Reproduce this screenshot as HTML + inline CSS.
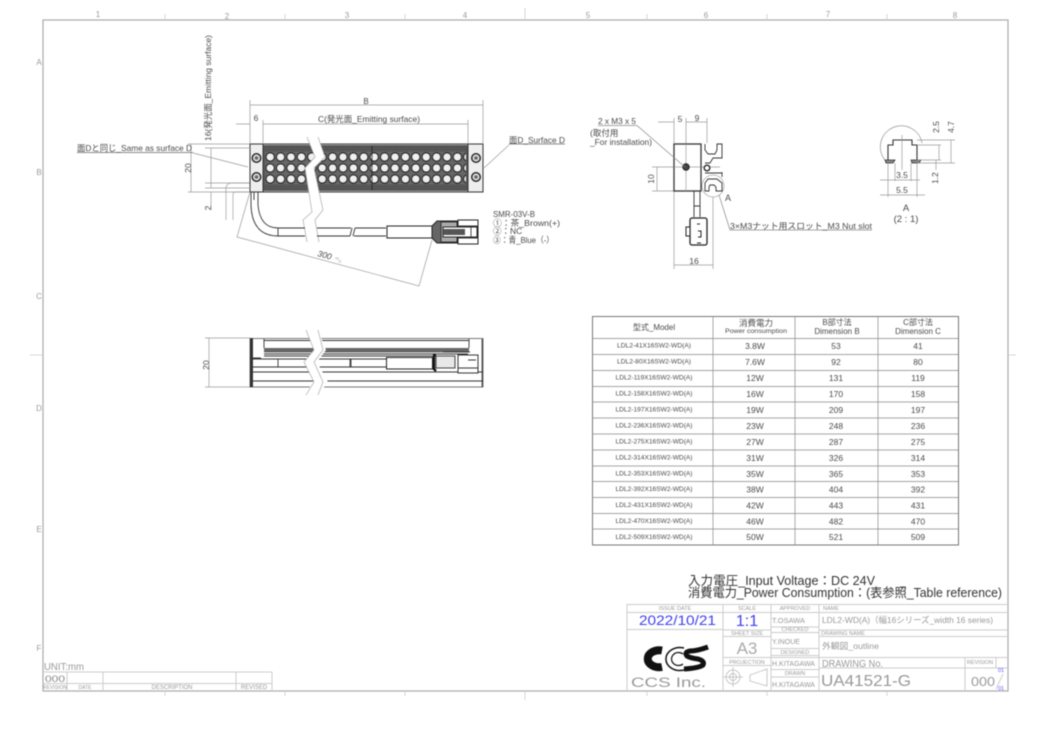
<!DOCTYPE html>
<html><head><meta charset="utf-8"><style>
html,body{margin:0;padding:0;background:#fff;width:1039px;height:729px;overflow:hidden}
svg{display:block;filter:blur(.4px)}
text{font-family:"Liberation Sans","Noto Sans CJK JP",sans-serif;fill:#4a4a4a}
.g text,text.g{fill:#999}
.l{fill:none;stroke:#333;stroke-width:.9}
.d{fill:none;stroke:#999;stroke-width:.7}
.t{fill:none;stroke:#ccc;stroke-width:1}
.c{text-anchor:middle}
</style></head><body>
<svg width="1039" height="729" viewBox="0 0 1039 729" xmlns="http://www.w3.org/2000/svg">
<defs>
<pattern id="led" x="265" y="151.5" width="10.4" height="11" patternUnits="userSpaceOnUse">
<rect width="10.4" height="11" fill="#666"/><circle cx="5.2" cy="5.5" r="4.2" fill="#f0f0f0" stroke="#222" stroke-width="1.1"/>
</pattern>
</defs>
<rect x="43" y="20" width="965" height="671" fill="none" stroke="#aaa" stroke-width="1.2"/>
<path d="M525 8V20M525 691V700M30 355H43M1008 355H1016M165 14V20M285 14V20M405 14V20M647 14V20M767 14V20M887 14V20M165 691V696M285 691V696M405 691V696M647 691V696M767 691V696M887 691V696" stroke="#ccc" stroke-width=".8"/>
<g class="g" font-size="8">
<text x="98" y="17" class="c">1</text><text x="227" y="19" class="c">2</text><text x="347" y="18" class="c">3</text><text x="465" y="18" class="c">4</text><text x="588" y="18" class="c">5</text><text x="706" y="18" class="c">6</text><text x="828" y="17" class="c">7</text><text x="955" y="18" class="c">8</text>
<text x="39" y="65" class="c">A</text><text x="39" y="175" class="c">B</text><text x="39" y="299" class="c">C</text><text x="39" y="411" class="c">D</text><text x="39" y="532" class="c">E</text><text x="39" y="651" class="c">F</text>
</g>

<!-- top view -->
<path d="M226 220V189Q226 183 232 183H250M233 220V195Q233 192 236 192H250" fill="none" stroke="#aaa" stroke-width=".8"/>
<path d="M188 192H250M188 144H250M205 183H250" class="d"/>
<rect x="263" y="145" width="205" height="46" fill="#555"/>
<rect x="265" y="151.500" width="201" height="33" fill="url(#led)"/>
<rect x="250" y="144" width="233" height="48" fill="none" stroke="#333"/>
<rect x="250" y="144" width="13" height="48" fill="#eee" stroke="#333"/>
<rect x="468" y="144" width="15" height="48" fill="#eee" stroke="#333"/>
<path d="M372 146V190" stroke="#222" stroke-width=".8"/>
<g fill="#ddd" stroke="#222" stroke-width="1.4">
<circle cx="256.500" cy="158" r="4.300"/><circle cx="256.500" cy="177" r="4.300"/><circle cx="476" cy="158" r="4.300"/><circle cx="476" cy="177" r="4.300"/>
</g>
<g fill="#666"><circle cx="256.500" cy="158" r="1.800"/><circle cx="256.500" cy="177" r="1.800"/><circle cx="476" cy="158" r="1.800"/><circle cx="476" cy="177" r="1.800"/></g>
<path d="M307 137L315 157L305 168L312 212L303 220L307 242L319 242L315 220L323 210L314 168L325 157L318 137Z" fill="#fff" stroke="none"/>
<path d="M307 137L315 157L305 168L312 212L303 220L307 242M318 137L325 157L314 168L323 210L315 220L319 242" fill="none" stroke="#aaa" stroke-width=".7"/>
<!-- cable -->
<path d="M251 192V205Q252 236 278 236H305M258 192V205Q260 228 278 228H305M278 228V236M254 192V200" class="l" stroke-width="1.100"/>
<path d="M317 228H351M317 236H350M355 228H386M354 236H386M352 228L350 236M355 228L353 236" class="l"/>
<rect x="387" y="226" width="45" height="12" fill="#fff" stroke="#222"/>
<path d="M432 226L437 221H457V243H437L432 238Z" fill="#666" stroke="#222"/>
<rect x="441" y="222" width="16" height="20" fill="#aaa" stroke="#222" stroke-width=".8"/>
<rect x="458" y="220" width="20" height="24" fill="#fff" stroke="#222"/>
<rect x="443" y="227" width="34" height="10" fill="#fff" stroke="#222"/>
<rect x="443" y="229" width="22" height="6" fill="#555"/>
<path d="M458 226H478M458 238H478M471 227V237" class="l"/>

<!-- top dims -->
<path d="M250 100V144M483 100V144M263 120V144M468 120V144M250 105H483M263 124H468M236 124H250M263 124H272" class="d"/>
<path d="M205 148H250M205 188H250M191 144V192M211 148V188M211 192V210" class="d"/>
<path d="M250 192L237 237L419 286L432 240M193 153L248 167M509 145L484 168" class="d"/>
<path d="M77 152.500H193M509 144H565" stroke="#666" stroke-width=".7"/>
<text x="366" y="104" font-size="8" class="c">B</text>
<text x="256" y="121" font-size="8.500" class="c">6</text>
<text x="318" y="122" font-size="8.500" textLength="102" lengthAdjust="spacingAndGlyphs">C(発光面_Emitting surface)</text>
<text x="77" y="151" font-size="8.500" textLength="115" lengthAdjust="spacingAndGlyphs">面Dと同じ_Same as surface D</text>
<text x="509" y="143" font-size="8.500" textLength="56" lengthAdjust="spacingAndGlyphs">面D_Surface D</text>
<text transform="translate(191,168) rotate(-90)" font-size="8.500" class="c">20</text>
<text transform="translate(211,141) rotate(-90)" font-size="8.500" textLength="106" lengthAdjust="spacingAndGlyphs">16(発光面_Emitting surface)</text>
<text transform="translate(211,208) rotate(-90)" font-size="8.500" class="c">2</text>
<text transform="translate(317,256) rotate(15)" font-size="8.500" font-style="italic">300 <tspan font-size="6" style="fill:#999">⁺⁵₀</tspan></text>
<g font-size="8.500">
<text x="493" y="217" textLength="42" lengthAdjust="spacingAndGlyphs">SMR-03V-B</text>
<text x="493" y="226" textLength="67" lengthAdjust="spacingAndGlyphs">①：茶_Brown(+)</text>
<text x="493" y="234">②：NC</text>
<text x="493" y="243" textLength="61" lengthAdjust="spacingAndGlyphs">③：青_Blue（-）</text>
</g>

<!-- side view -->
<path d="M205 338H250M205 387H250M209 338V387" class="d"/>
<text transform="translate(209,365) rotate(-90)" font-size="8.500" class="c">20</text>
<rect x="250" y="338.500" width="233" height="48.500" fill="#fff" stroke="#555" stroke-width=".8"/>
<rect x="250" y="338" width="3" height="49" fill="#333"/>
<rect x="481.500" y="339" width="1.500" height="48" fill="#555"/>
<rect x="264" y="348" width="205" height="4.500" fill="#666"/>
<path d="M264 339V348M469 339V348M264 340.500H469M264 354H468M264 356H445M253 359H387M253 367H387M253 372H483M253 381H483M278 359V367M350 359V367M351 359V367M253 358H261" class="l" stroke-width=".8"/>
<rect x="386.500" y="357.500" width="46" height="11.500" fill="#fff" stroke="#222"/>
<rect x="436" y="356" width="19" height="12" fill="#e8e8e8" stroke="#444"/>
<path d="M433 355H436M434 356V369L436 371" fill="none" stroke="#111" stroke-width="2.400"/>
<rect x="458" y="355" width="20" height="18" fill="#fff" stroke="#333"/>
<path d="M468 360H476M443 352H470M458 368H478" class="l"/>
<path d="M306 330L314 350L304 362L314 382L303 395L318 395L328 382L317 362L326 350L318 330Z" fill="#fff"/>
<path d="M306 330L314 350L304 362L314 382L306 395M318 330L323 350L314 362L323 382L318 395" fill="none" stroke="#aaa" stroke-width=".7"/>

<!-- front view -->
<path d="M674 118V143M686 118V167M707 118V143M674 191V269M713 191V269M658 122H674M686 122H707M674 265H713M657 167V191M652 167H720M652 191H674M686 144V191" class="d"/>
<circle cx="713" cy="186" r="11" fill="#fff" stroke="#aaa" stroke-width=".8"/>
<rect x="674" y="144" width="27" height="47" fill="none" stroke="#333" stroke-width="1.300"/>
<path d="M674 167H701M686 144V191" stroke="#bbb" stroke-width=".6"/>
<path d="M705 144V150L708 154H715L717 150V144H722V158H713L710 163H705M705 173H710L713 173H722V172M722 173V177M705 191V183L708 179H717L722 183V191H716V187L714 185H710L709 187V191Z" class="l" stroke-width="1"/>
<circle cx="707" cy="168" r="2.800" fill="#fff" stroke="#222" stroke-width="1.300"/>
<circle cx="686" cy="167" r="3.200" fill="#444" stroke="#222"/>
<path d="M694 191V217M700 191V217M694 206H700" class="l"/>
<rect x="690" y="218" width="17" height="27" rx="2" fill="#fff" stroke="#222" stroke-width="1.300"/>
<rect x="686" y="227" width="4" height="9" fill="#fff" stroke="#222"/>
<path d="M697 224H700M698 231H701V237H698M697 243H701" stroke="#222" fill="none"/>
<text x="680" y="122" font-size="8.500" class="c">5</text><text x="697" y="121" font-size="8.500" class="c">9</text>
<text x="694" y="264" font-size="8.500" class="c">16</text>
<text transform="translate(654,179) rotate(-90)" font-size="8.500" class="c">10</text>
<text x="728" y="201" font-size="9" class="c">A</text>
<path d="M598 125.500H637L685 167M719 195L730 230H872" fill="none" stroke="#888" stroke-width=".7"/>
<text x="598" y="124" font-size="8.500" textLength="38" lengthAdjust="spacingAndGlyphs">2 x M3 x 5</text>
<text x="590" y="136" font-size="8.500">(取付用</text>
<text x="590" y="145" font-size="8.500" textLength="62" lengthAdjust="spacingAndGlyphs">_For installation)</text>
<text x="730" y="229" font-size="8.500" textLength="142" lengthAdjust="spacingAndGlyphs">3×M3ナット用スロット_M3 Nut slot</text>

<!-- detail A -->
<path d="M885 160A21 21 0 1 1 922 143" fill="none" stroke="#999" stroke-width=".8"/>
<path d="M888 160V145H893V140H912V145H917V160" fill="none" stroke="#333" stroke-width="1.100"/>
<path d="M885 160H895L893 163H886ZM911 160H921L919 163H912Z" fill="#888" stroke="#333" stroke-width=".8"/>
<path d="M902 135V170M888 163V197M895 163V181M911 163V181M917 163V197M880 180H920M880 195H925M917 140H955M917 145H941M917 163H955M917 160H941M939 145V160M951 140V163M936 160V170" class="d"/>
<text x="902" y="178" font-size="8.500" class="c">3.5</text>
<text x="902" y="193" font-size="8.500" class="c">5.5</text>
<text transform="translate(939,127) rotate(-90)" font-size="8.500" class="c">2.5</text>
<text transform="translate(954,127) rotate(-90)" font-size="8.500" class="c">4.7</text>
<text transform="translate(938,178) rotate(-90)" font-size="8.500" class="c">1.2</text>
<text x="906" y="211" font-size="9.500" class="c">A</text>
<text x="906" y="222" font-size="9.500" class="c">(2 : 1)</text>

<!-- table -->
<rect x="592.500" y="316.500" width="366" height="228.500" fill="none" stroke="#777"/>
<path d="M713 316V545M795 316V545M878 316V545M592 338.500H958M592 354.500H958M592 370.500H958M592 386.500H958M592 402H958M592 418H958M592 434H958M592 450H958M592 466H958M592 481.500H958M592 497.500H958M592 513.500H958M592 529H958" stroke="#888" stroke-width=".7"/>
<text x="654" y="330" font-size="8" class="c">型式_Model</text>
<text x="756" y="326" font-size="8.500" class="c">消費電力</text><text x="756" y="333" font-size="6.500" class="c" textLength="62" lengthAdjust="spacingAndGlyphs">Power consumption</text>
<text x="837" y="325" font-size="8" class="c">B部寸法</text><text x="837" y="334" font-size="8" class="c">Dimension B</text>
<text x="918" y="325" font-size="8" class="c">C部寸法</text><text x="918" y="334" font-size="8" class="c">Dimension C</text>
<g font-size="6.800" text-anchor="middle">
<text x="654" y="347.500" textLength="74" lengthAdjust="spacingAndGlyphs">LDL2-41X16SW2-WD(A)</text>
<text x="654" y="363.500" textLength="74" lengthAdjust="spacingAndGlyphs">LDL2-80X16SW2-WD(A)</text>
<text x="654" y="379.500" textLength="77" lengthAdjust="spacingAndGlyphs">LDL2-119X16SW2-WD(A)</text>
<text x="654" y="395.500" textLength="77" lengthAdjust="spacingAndGlyphs">LDL2-158X16SW2-WD(A)</text>
<text x="654" y="411.500" textLength="77" lengthAdjust="spacingAndGlyphs">LDL2-197X16SW2-WD(A)</text>
<text x="654" y="427.500" textLength="77" lengthAdjust="spacingAndGlyphs">LDL2-236X16SW2-WD(A)</text>
<text x="654" y="443.500" textLength="77" lengthAdjust="spacingAndGlyphs">LDL2-275X16SW2-WD(A)</text>
<text x="654" y="459.500" textLength="77" lengthAdjust="spacingAndGlyphs">LDL2-314X16SW2-WD(A)</text>
<text x="654" y="475.500" textLength="77" lengthAdjust="spacingAndGlyphs">LDL2-353X16SW2-WD(A)</text>
<text x="654" y="491" textLength="77" lengthAdjust="spacingAndGlyphs">LDL2-392X16SW2-WD(A)</text>
<text x="654" y="507" textLength="77" lengthAdjust="spacingAndGlyphs">LDL2-431X16SW2-WD(A)</text>
<text x="654" y="523" textLength="77" lengthAdjust="spacingAndGlyphs">LDL2-470X16SW2-WD(A)</text>
<text x="654" y="539" textLength="77" lengthAdjust="spacingAndGlyphs">LDL2-509X16SW2-WD(A)</text>
</g>
<g font-size="8.500" text-anchor="middle">
<text x="755" y="349">3.8W</text><text x="836" y="349">53</text><text x="918" y="349">41</text>
<text x="755" y="365">7.6W</text><text x="836" y="365">92</text><text x="918" y="365">80</text>
<text x="755" y="381">12W</text><text x="836" y="381">131</text><text x="918" y="381">119</text>
<text x="755" y="397">16W</text><text x="836" y="397">170</text><text x="918" y="397">158</text>
<text x="755" y="413">19W</text><text x="836" y="413">209</text><text x="918" y="413">197</text>
<text x="755" y="429">23W</text><text x="836" y="429">248</text><text x="918" y="429">236</text>
<text x="755" y="445">27W</text><text x="836" y="445">287</text><text x="918" y="445">275</text>
<text x="755" y="461">31W</text><text x="836" y="461">326</text><text x="918" y="461">314</text>
<text x="755" y="477">35W</text><text x="836" y="477">365</text><text x="918" y="477">353</text>
<text x="755" y="492.500">38W</text><text x="836" y="492.500">404</text><text x="918" y="492.500">392</text>
<text x="755" y="508.500">42W</text><text x="836" y="508.500">443</text><text x="918" y="508.500">431</text>
<text x="755" y="524.500">46W</text><text x="836" y="524.500">482</text><text x="918" y="524.500">470</text>
<text x="755" y="540">50W</text><text x="836" y="540">521</text><text x="918" y="540">509</text>
</g>

<!-- notes -->
<text x="688" y="585" font-size="12.500" textLength="187" lengthAdjust="spacingAndGlyphs" style="fill:#333">入力電圧_Input Voltage：DC 24V</text>
<text x="688" y="597" font-size="12.500" textLength="314" lengthAdjust="spacingAndGlyphs" style="fill:#333">消費電力_Power Consumption：(表参照_Table reference)</text>

<!-- title block -->
<path d="M627 604.500H1008M627 612.500H1008M627 629.500H723M723 630H771M771 627H819M771 632.500H819M819 630H1008M819 636.500H1008M723 636.500H771M771 648.500H819M771 655.500H819M723 657.500H1008M723 665.500H771M771 669.500H819M771 677H819M819 668H1008M627 604V691M723 604V691M771 604V691M819 604V691M965 657V691M996 657V668" class="t"/>
<g class="g" font-size="5.500" text-anchor="middle">
<text x="675" y="610">ISSUE DATE</text><text x="747" y="610">SCALE</text><text x="795" y="610">APPROVED</text>
<text x="747" y="635">SHEET  SIZE</text><text x="795" y="631">CHECKED</text><text x="795" y="654">DESIGNED</text>
<text x="747" y="664">PROJECTION</text><text x="795" y="675">DRAWN</text>
<text x="980" y="664">REVISION</text>
<text x="831" y="610">NAME</text><text x="843" y="635">DRAWING  NAME</text>
</g>
<text x="639" y="625" font-size="14" textLength="77" lengthAdjust="spacingAndGlyphs" style="fill:#4040f0">2022/10/21</text>
<text x="747" y="626" font-size="16" text-anchor="middle" style="fill:#4040f0">1:1</text>
<text x="747" y="654" font-size="17" text-anchor="middle" style="fill:#aaa">A3</text>
<g class="g" font-size="7">
<text x="772" y="623" textLength="33" lengthAdjust="spacingAndGlyphs">T.OSAWA</text>
<text x="772" y="644" textLength="28" lengthAdjust="spacingAndGlyphs">Y.INOUE</text>
<text x="772" y="666" textLength="43" lengthAdjust="spacingAndGlyphs">H.KITAGAWA</text>
<text x="772" y="687" textLength="43" lengthAdjust="spacingAndGlyphs">H.KITAGAWA</text>
</g>
<text x="822" y="623" font-size="8.500" textLength="171" lengthAdjust="spacingAndGlyphs" class="g">LDL2-WD(A)（幅16シリーズ_width 16 series)</text>
<text x="822" y="649" font-size="8.500" textLength="57" lengthAdjust="spacingAndGlyphs" class="g">外観図_outline</text>
<text x="822" y="667" font-size="10.500" textLength="61" lengthAdjust="spacingAndGlyphs" class="g">DRAWING No.</text>
<text x="821" y="686" font-size="16" textLength="90" lengthAdjust="spacingAndGlyphs" class="g">UA41521-G</text>
<text x="971" y="686" font-size="13" textLength="24" lengthAdjust="spacingAndGlyphs" class="g">000</text>
<text x="998" y="672" font-size="5.500" style="fill:#55f">01</text><text x="998" y="690" font-size="5.500" style="fill:#55f">01</text>
<path d="M1003 674L996 689" stroke="#aaa" stroke-width=".6"/>
<!-- logo -->
<g fill="none">
<path d="M684 648A14 11.500 0 1 0 684 670" stroke="#111" stroke-width="1.500"/>
<path d="M683 654A7 6.500 0 1 0 683 664" stroke="#111" stroke-width="1.200"/>
<path d="M662 650.500A11.500 8.500 0 1 0 662 667" stroke="#111" stroke-width="8" />
<path d="M708 647Q697 651 690 651Q684 652 687 656Q690 658 698 659Q705 661 703 665Q699 668 684 669" stroke="#111" stroke-width="5"/>
</g>
<text x="631" y="687" font-size="13.500" textLength="75" lengthAdjust="spacingAndGlyphs" style="fill:#999">CCS Inc.</text>
<g fill="none" stroke="#bbb" stroke-width=".8">
<circle cx="733" cy="677" r="7"/><circle cx="733" cy="677" r="3.500"/><path d="M724 677H743M733 667V687M750 675V681L767 686V669Z"/>
</g>

<!-- revision table -->
<path d="M43 672H272M43 683.500H272M67 672V691M103 672V691M236 672V691M272 672V691" class="t"/>
<text x="44" y="670" font-size="10" class="g" textLength="40" lengthAdjust="spacingAndGlyphs">UNIT:mm</text>
<text x="45" y="682" font-size="9.500" style="fill:#888" textLength="20" lengthAdjust="spacingAndGlyphs">000</text>
<g class="g" font-size="5" text-anchor="middle">
<text x="55" y="689">REVISION</text><text x="85" y="689">DATE</text><text x="172" y="689" font-size="6">DESCRIPTION</text><text x="254" y="689" font-size="6">REVISED</text>
</g>
</svg>
</body></html>
